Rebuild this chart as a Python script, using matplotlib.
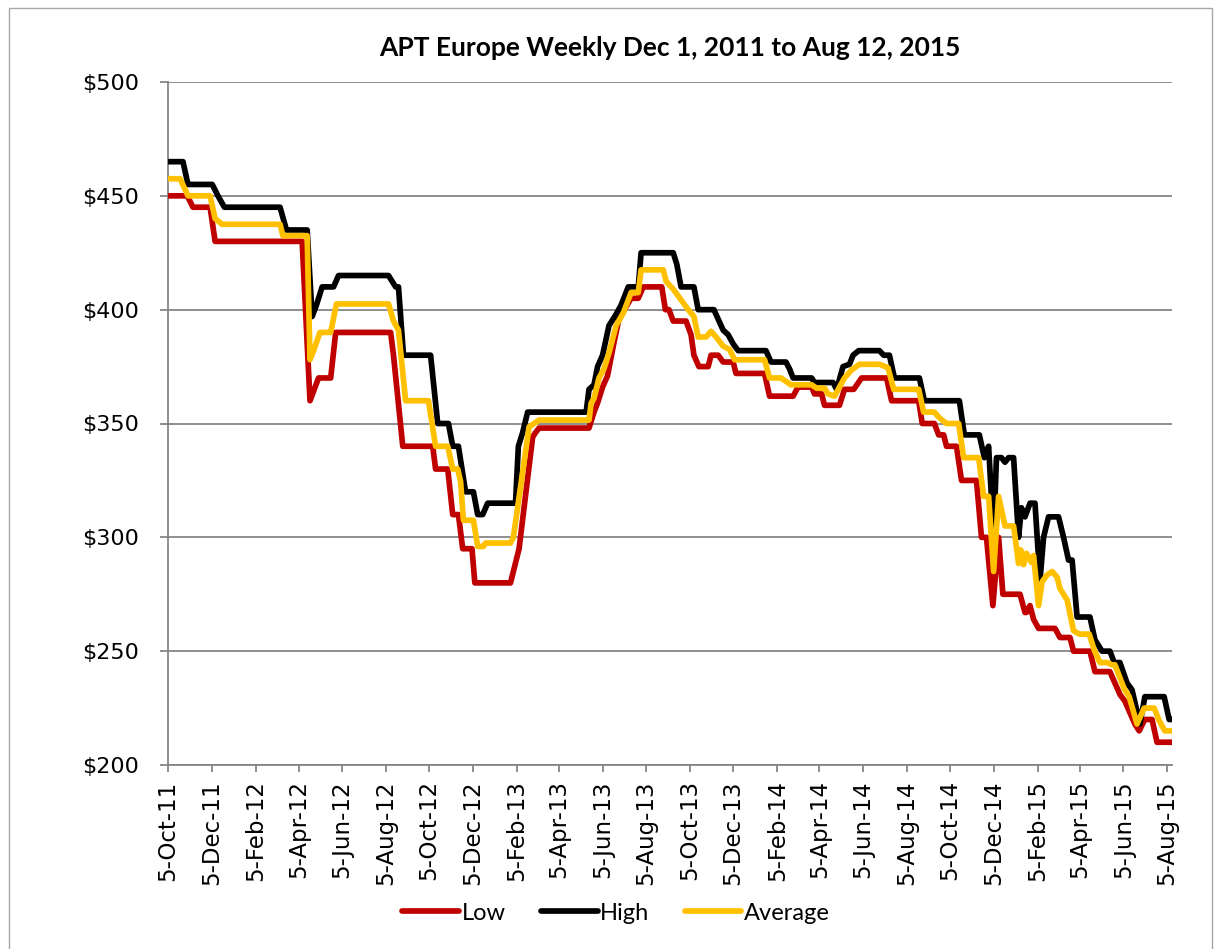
import datetime as dt
import matplotlib
matplotlib.use("Agg")
from matplotlib import pyplot as plt
import matplotlib.dates as mdates
from matplotlib.patches import Rectangle
from matplotlib.ticker import FuncFormatter, MultipleLocator

# vertices of each series (date, $ per tonne)
low_dates = [
    "2011-10-05", "2011-11-01", "2011-11-09", "2011-12-03", "2011-12-10", "2012-04-10",
    "2012-04-21", "2012-05-03", "2012-05-20", "2012-05-27", "2012-08-12", "2012-08-16",
    "2012-08-29", "2012-10-10", "2012-10-14", "2012-10-31", "2012-11-07", "2012-11-15",
    "2012-11-21", "2012-12-04", "2012-12-08", "2013-01-27", "2013-01-31", "2013-02-08",
    "2013-02-27", "2013-03-03", "2013-03-08", "2013-05-17", "2013-05-24", "2013-05-29",
    "2013-06-05", "2013-06-12", "2013-06-20", "2013-06-28", "2013-07-15", "2013-07-25",
    "2013-08-01", "2013-08-27", "2013-09-01", "2013-09-06", "2013-09-12", "2013-09-30",
    "2013-10-07", "2013-10-11", "2013-10-18", "2013-10-31", "2013-11-04", "2013-11-14",
    "2013-11-21", "2013-12-05", "2013-12-09", "2014-01-18", "2014-01-25", "2014-02-27",
    "2014-03-06", "2014-03-25", "2014-03-29", "2014-04-08", "2014-04-12", "2014-05-03",
    "2014-05-10", "2014-05-23", "2014-06-03", "2014-07-08", "2014-07-15", "2014-08-22",
    "2014-08-27", "2014-09-13", "2014-09-19", "2014-09-26", "2014-09-30", "2014-10-14",
    "2014-10-21", "2014-11-11", "2014-11-18", "2014-11-25", "2014-12-04", "2014-12-12",
    "2014-12-18", "2015-01-11", "2015-01-18", "2015-01-20", "2015-01-25", "2015-01-30",
    "2015-02-06", "2015-03-01", "2015-03-08", "2015-03-22", "2015-03-27", "2015-04-19",
    "2015-04-26", "2015-05-17", "2015-05-31", "2015-06-07", "2015-06-21", "2015-06-27",
    "2015-07-05", "2015-07-15", "2015-07-22", "2015-08-12",
]
low_values = [
    450, 450, 445, 445, 430, 430,
    360, 370, 370, 390, 390, 380,
    340, 340, 330, 330, 310, 310,
    295, 295, 280, 280, 285, 295,
    344, 346, 348, 348, 355, 359,
    366, 371, 384, 396, 405, 405,
    410, 410, 400, 400, 395, 395,
    389, 380, 375, 375, 380, 380,
    377, 377, 372, 372, 362, 362,
    366, 366, 363, 363, 358, 358,
    365, 365, 370, 370, 360, 360,
    350, 350, 345, 345, 340, 340,
    325, 325, 300, 300, 270, 300,
    275, 275, 267, 267, 270, 264,
    260, 260, 256, 256, 250, 250,
    241, 241, 231, 228, 218, 215,
    220, 220, 210, 210,
]

high_dates = [
    "2011-10-05", "2011-10-26", "2011-11-02", "2011-12-06", "2011-12-14", "2011-12-23",
    "2012-03-10", "2012-03-19", "2012-04-17", "2012-04-24", "2012-04-30", "2012-05-08",
    "2012-05-24", "2012-05-31", "2012-08-09", "2012-08-19", "2012-08-23", "2012-08-30",
    "2012-10-07", "2012-10-17", "2012-11-01", "2012-11-07", "2012-11-15", "2012-11-25",
    "2012-12-06", "2012-12-12", "2012-12-19", "2012-12-26", "2013-02-03", "2013-02-07",
    "2013-02-13", "2013-02-20", "2013-05-13", "2013-05-17", "2013-05-24", "2013-05-29",
    "2013-06-05", "2013-06-14", "2013-06-24", "2013-07-01", "2013-07-11", "2013-07-25",
    "2013-07-29", "2013-09-12", "2013-09-17", "2013-09-23", "2013-10-11", "2013-10-17",
    "2013-11-08", "2013-11-21", "2013-11-28", "2013-12-05", "2013-12-12", "2014-01-20",
    "2014-01-27", "2014-02-17", "2014-02-22", "2014-02-27", "2014-03-25", "2014-03-29",
    "2014-04-24", "2014-04-29", "2014-05-08", "2014-05-17", "2014-05-22", "2014-05-30",
    "2014-06-28", "2014-07-04", "2014-07-12", "2014-07-19", "2014-08-23", "2014-08-30",
    "2014-10-18", "2014-10-25", "2014-11-15", "2014-11-22", "2014-11-28", "2014-12-05",
    "2014-12-09", "2014-12-16", "2014-12-21", "2014-12-26", "2015-01-02", "2015-01-09",
    "2015-01-13", "2015-01-18", "2015-01-25", "2015-02-01", "2015-02-08", "2015-02-13",
    "2015-02-20", "2015-03-06", "2015-03-13", "2015-03-20", "2015-03-25", "2015-04-01",
    "2015-04-19", "2015-04-26", "2015-05-06", "2015-05-17", "2015-05-23", "2015-05-31",
    "2015-06-10", "2015-06-17", "2015-06-28", "2015-07-05", "2015-08-01", "2015-08-08",
    "2015-08-12",
]
high_values = [
    465, 465, 455, 455, 450, 445,
    445, 435, 435, 397, 402, 410,
    410, 415, 415, 410, 410, 380,
    380, 350, 350, 340, 340, 320,
    320, 310, 310, 315, 315, 340,
    346, 355, 355, 365, 367, 375,
    380, 393, 398, 402, 410, 410,
    425, 425, 420, 410, 410, 400,
    400, 391, 389, 385, 382, 382,
    377, 377, 374, 370, 370, 368,
    368, 365, 375, 376, 380, 382,
    382, 380, 380, 370, 370, 360,
    360, 345, 345, 335, 340, 300,
    335, 335, 333, 335, 335, 300,
    313, 309, 315, 315, 281, 300,
    309, 309, 300, 290, 290, 265,
    265, 255, 250, 250, 245, 245,
    236, 233, 218, 230, 230, 220,
    220,
]

avg_dates = [
    "2011-10-05", "2011-10-22", "2011-11-02", "2011-12-03", "2011-12-10", "2011-12-20",
    "2012-03-10", "2012-03-14", "2012-04-17", "2012-04-21", "2012-04-26", "2012-05-05",
    "2012-05-20", "2012-05-28", "2012-08-09", "2012-08-16", "2012-08-23", "2012-09-02",
    "2012-10-04", "2012-10-14", "2012-10-31", "2012-11-07", "2012-11-14", "2012-11-18",
    "2012-11-22", "2012-12-06", "2012-12-12", "2012-12-20", "2012-12-23", "2013-01-27",
    "2013-01-31", "2013-02-22", "2013-03-01", "2013-03-08", "2013-05-17", "2013-05-20",
    "2013-05-24", "2013-05-31", "2013-06-07", "2013-06-14", "2013-06-24", "2013-07-04",
    "2013-07-15", "2013-07-25", "2013-07-29", "2013-08-29", "2013-09-02", "2013-09-12",
    "2013-09-19", "2013-09-26", "2013-10-03", "2013-10-11", "2013-10-17", "2013-10-28",
    "2013-11-04", "2013-11-11", "2013-11-21", "2013-11-30", "2013-12-07", "2014-01-18",
    "2014-01-25", "2014-02-10", "2014-02-17", "2014-02-24", "2014-03-25", "2014-04-01",
    "2014-04-12", "2014-04-17", "2014-04-26", "2014-05-10", "2014-05-20", "2014-05-31",
    "2014-06-28", "2014-07-10", "2014-07-18", "2014-08-22", "2014-08-29", "2014-09-13",
    "2014-09-20", "2014-09-30", "2014-10-17", "2014-10-24", "2014-11-14", "2014-11-21",
    "2014-11-28", "2014-12-05", "2014-12-12", "2014-12-21", "2015-01-02", "2015-01-09",
    "2015-01-12", "2015-01-16", "2015-01-20", "2015-01-27", "2015-01-30", "2015-02-06",
    "2015-02-11", "2015-02-18", "2015-02-25", "2015-03-04", "2015-03-08", "2015-03-18",
    "2015-03-27", "2015-04-04", "2015-04-18", "2015-04-25", "2015-05-03", "2015-05-13",
    "2015-05-20", "2015-05-24", "2015-06-06", "2015-06-13", "2015-06-24", "2015-07-04",
    "2015-07-18", "2015-07-25", "2015-08-02", "2015-08-12",
]
avg_values = [
    457.5, 457.5, 450, 450, 440, 437.5,
    437.5, 432.5, 432.5, 378, 382, 390,
    390, 402.5, 402.5, 395, 391, 360,
    360, 340, 340, 330, 330, 324.5,
    307.5, 307.5, 296, 296, 297.5, 297.5,
    300, 348.5, 350, 351.5, 351.5, 359,
    361, 370, 374, 381, 393, 398.5,
    407.5, 407.5, 417.5, 417.5, 412.5, 409,
    406, 403, 400, 397, 388, 388,
    390.5, 388, 384, 382.5, 378, 378,
    370, 370, 368.5, 367, 367, 365.5,
    365.5, 363, 362, 370, 373.5, 376,
    376, 374.5, 365, 365, 355, 355,
    352.5, 350, 350, 335, 335, 318,
    318, 285, 318, 305, 305, 288.5,
    294.5, 288, 293, 289, 292, 270,
    280.5, 283.5, 285, 282.5, 277.5, 272.5,
    259, 257.5, 257.5, 250.5, 245, 245,
    244, 244, 233.5, 230, 218, 225,
    225, 219.5, 215, 215,
]

series_names = ["Low", "High", "Average"]
series_colors = ["#C00000", "#000000", "#FFC000"]

title = "APT Europe Weekly Dec 1, 2011 to Aug 12, 2015"
grid_color = "#868686"


def to_dates(values):
    return [dt.datetime.strptime(v, "%Y-%m-%d") for v in values]


def date_label(x, pos):
    d = mdates.num2date(x)
    return f"{d.day}-{d.strftime('%b-%y')}"


def main():
    fig = plt.figure(figsize=(12.15, 9.49), dpi=100)
    ax = fig.add_axes([168 / 1215, 1 - 765 / 949, (1172 - 168) / 1215, (765 - 82) / 949])

    # chart area border
    fig.patches.append(Rectangle((9 / 1215, -0.01), (1212 - 9) / 1215, 1.01 - 8 / 949,
                                 transform=fig.transFigure, fill=False,
                                 edgecolor="#A6A6A6", linewidth=1.0))

    all_dates = [low_dates, high_dates, avg_dates]
    all_values = [low_values, high_values, avg_values]
    for name, color, dates, values in zip(series_names, series_colors, all_dates, all_values):
        ax.plot(to_dates(dates), values, color=color, linewidth=4.1, label=name,
                solid_joinstyle="round", solid_capstyle="round", zorder=3)

    ax.set_ylim(200, 500)
    ax.set_xlim(dt.datetime(2011, 10, 5), dt.datetime(2015, 8, 12))
    ax.yaxis.set_major_locator(MultipleLocator(50))
    ax.yaxis.set_major_formatter(FuncFormatter(lambda v, p: f"${v:.0f}"))
    ax.xaxis.set_major_locator(mdates.MonthLocator(bymonth=[2, 4, 6, 8, 10, 12], bymonthday=5))
    ax.xaxis.set_major_formatter(FuncFormatter(date_label))

    ax.grid(axis="y", color=grid_color, linewidth=1.3)
    ax.set_axisbelow(True)
    for side in ["top", "right"]:
        ax.spines[side].set_visible(False)
    for side in ["left", "bottom"]:
        ax.spines[side].set_color(grid_color)
        ax.spines[side].set_linewidth(1.3)

    ax.tick_params(axis="y", length=6, width=1.3, color=grid_color, labelsize=16, pad=15)
    ax.tick_params(axis="x", length=5, width=1.3, color=grid_color, labelsize=16.5,
                   pad=6, labelrotation=90)

    fig.text(0.551, 1 - 48 / 949, title, ha="center", va="center",
             fontsize=19, fontweight="bold", family="Lato")

    fig.legend(loc="center", bbox_to_anchor=(0.507, 1 - 913 / 949), ncol=3,
               frameon=False, prop={"family": "Lato", "size": 17},
               handlelength=2.4, handletextpad=0.1, columnspacing=1.5)

    fig.savefig("out.png", dpi=100)


if __name__ == "__main__":
    main()
